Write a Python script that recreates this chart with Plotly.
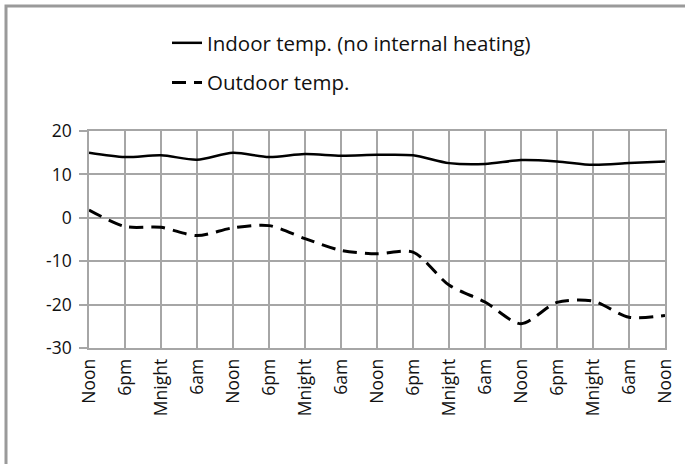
import plotly.graph_objects as go

tick_labels = ["Noon", "6pm", "Mnight", "6am", "Noon", "6pm", "Mnight", "6am", "Noon",
               "6pm", "Mnight", "6am", "Noon", "6pm", "Mnight", "6am", "Noon"]
y_tick_values = [-30, -20, -10, 0, 10, 20]
y_tick_labels = ["-30", "-20", "-10", "0", "10", "20"]
indoor = [15.0, 14.0, 14.4, 13.4, 15.0, 14.0, 14.7, 14.3, 14.5,
          14.4, 12.6, 12.4, 13.3, 13.0, 12.2, 12.6, 13.0]
outdoor = [1.8, -2.0, -2.2, -4.1, -2.3, -1.8, -4.8, -7.5, -8.3,
           -7.9, -15.5, -19.4, -24.4, -19.5, -19.2, -22.9, -22.5]
x_pos = list(range(len(tick_labels)))

FONT = "Open Sans"
GRID = "#a6a6a6"

fig = go.Figure()
fig.add_trace(go.Scatter(
    x=x_pos, y=indoor, mode="lines", name="Indoor temp. (no internal heating)",
    line=dict(color="black", width=2.5, shape="spline", smoothing=0.8),
    legendgroup="a"))
fig.add_trace(go.Scatter(
    x=x_pos, y=outdoor, mode="lines", name="Outdoor temp.",
    line=dict(color="black", width=3, shape="spline", smoothing=0.8, dash="14px,8px"),
    legendgroup="b"))

L, R, T, B = 89, 20, 131, 116
W, H = 685, 464
pw, ph = W - L - R, H - T - B

def px_x(p):
    return (p - L) / pw

def px_y(p):
    return (H - B - p) / ph

fig.add_shape(type="rect", xref="paper", yref="paper",
              x0=px_x(6), x1=px_x(720), y0=px_y(500), y1=px_y(6),
              line=dict(color="#9a9a9a", width=3), fillcolor="rgba(0,0,0,0)")

fig.update_layout(
    width=W, height=H,
    margin=dict(l=L, r=R, t=T, b=B, pad=0, autoexpand=False),
    paper_bgcolor="white", plot_bgcolor="white",
    font=dict(family=FONT, size=17.5, color="#111"),
    showlegend=True,
    legend=dict(x=px_x(167), y=px_y(23), xanchor="left", yanchor="top",
                font=dict(size=20.5, family=FONT, color="#111"),
                traceorder="grouped", tracegroupgap=10,
                bgcolor="rgba(0,0,0,0)", itemwidth=30),
    xaxis=dict(range=[0, 16], tickmode="array", tickvals=x_pos, ticktext=tick_labels,
               tickangle=-90, showgrid=True, gridcolor=GRID, gridwidth=1.5,
               showline=True, mirror=True, linecolor=GRID, linewidth=1.5,
               ticks="", zeroline=False, fixedrange=True, automargin=False,
               ticklabelstandoff=2,
               tickfont=dict(size=17.5, family=FONT, color="#111")),
    yaxis=dict(range=[-30, 20], tickmode="array", tickvals=y_tick_values,
               ticktext=y_tick_labels,
               showgrid=True, gridcolor=GRID, gridwidth=1.5,
               showline=True, mirror=True, linecolor=GRID, linewidth=1.5,
               ticks="outside", ticklen=8, tickcolor=GRID, tickwidth=1.5,
               zeroline=False, fixedrange=True, automargin=False,
               ticklabelstandoff=4,
               tickfont=dict(size=17.5, family=FONT, color="#111")),
)

fig.write_html(
    "out.html",
    config={"displayModeBar": False},
    post_script="document.body.style.margin='0';document.body.style.overflow='hidden';",
)
